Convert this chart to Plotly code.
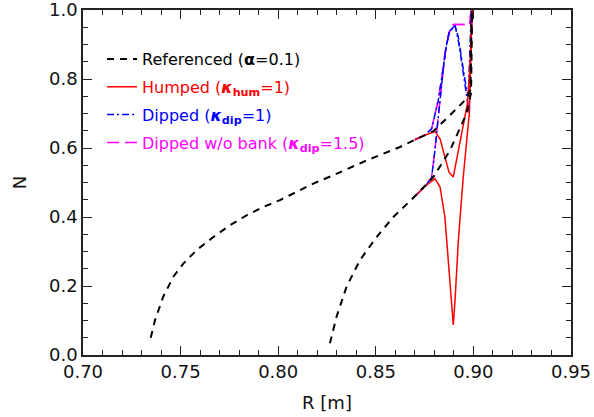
import plotly.graph_objects as go

# ---------------- data ----------------
# Referenced (alpha = 0.1): outer and inner branches
ref_out_R = [0.7347, 0.7369, 0.7411, 0.7463, 0.7514, 0.7582, 0.7668, 0.7753, 0.7838, 0.7924,
             0.8009, 0.8095, 0.8180, 0.8282, 0.8453, 0.8624, 0.8700, 0.8795, 0.8880, 0.8965,
             0.8985, 0.8992]
ref_out_N = [0.050, 0.101, 0.169, 0.227, 0.265, 0.304, 0.342, 0.376, 0.405, 0.429,
             0.449, 0.473, 0.497, 0.521, 0.564, 0.603, 0.624, 0.649, 0.695, 0.743,
             0.770, 1.020]
ref_in_R = [0.8265, 0.8299, 0.8350, 0.8419, 0.8504, 0.8590, 0.8700, 0.8795, 0.8880, 0.8965,
            0.8988, 0.8994]
ref_in_N = [0.034, 0.111, 0.198, 0.275, 0.342, 0.400, 0.460, 0.516, 0.593, 0.700,
            0.760, 1.020]

# Humped (kappa_hum = 1)
hum_out_R = [0.8700, 0.8750, 0.8803, 0.8830, 0.8854, 0.8875, 0.8897, 0.8923, 0.8948, 0.8969,
             0.8982, 0.8996]
hum_out_N = [0.624, 0.637, 0.648, 0.625, 0.574, 0.530, 0.516, 0.593, 0.661, 0.728,
             0.834, 1.020]
hum_in_R = [0.8700, 0.8755, 0.8803, 0.8829, 0.8854, 0.8871, 0.8888, 0.8897, 0.8906, 0.8923,
            0.8948, 0.8969, 0.8979, 0.8993]
hum_in_N = [0.460, 0.490, 0.511, 0.487, 0.400, 0.275, 0.140, 0.087, 0.159, 0.333,
            0.516, 0.642, 0.700, 1.020]

# Dipped (kappa_dip = 1)
dip_out_R = [0.8700, 0.8750, 0.8786, 0.8820, 0.8846, 0.8863, 0.8880, 0.8906, 0.8923, 0.8940,
             0.8957, 0.8974, 0.8990]
dip_out_N = [0.624, 0.637, 0.656, 0.738, 0.834, 0.902, 0.940, 0.955, 0.921, 0.854,
             0.796, 0.748, 1.020]
dip_in_R = [0.8700, 0.8755, 0.8786, 0.8803, 0.8820, 0.8837, 0.8854, 0.8875, 0.8906, 0.8925,
            0.8945, 0.8962, 0.8979, 0.8993]
dip_in_N = [0.460, 0.490, 0.516, 0.593, 0.690, 0.786, 0.873, 0.935, 0.955, 0.905,
            0.830, 0.760, 0.700, 1.020]

# Dipped w/o bank (kappa_dip = 1.5)
nob_out_R = [0.8700, 0.8750, 0.8786, 0.8820, 0.8846, 0.8863, 0.8880, 0.8897, 0.8940, 0.8982,
             0.8990]
nob_out_N = [0.624, 0.637, 0.656, 0.738, 0.834, 0.902, 0.940, 0.958, 0.958, 0.958,
             1.020]
nob_in_R = [0.8700, 0.8755, 0.8786, 0.8803, 0.8820, 0.8837, 0.8854, 0.8875, 0.8897, 0.8940,
            0.8982, 0.8990]
nob_in_N = [0.460, 0.490, 0.516, 0.593, 0.690, 0.786, 0.873, 0.935, 0.958, 0.958,
            0.958, 1.020]

x_ticks = [0.70, 0.75, 0.80, 0.85, 0.90, 0.95]
y_ticks = [0.0, 0.2, 0.4, 0.6, 0.8, 1.0]

names = [
    "Referenced (<b>α</b>=0.1)",
    "<span style='color:#ff0000'>Humped (<b><i>κ</i><sub>hum</sub></b>=1)</span>",
    "<span style='color:#0000ff'>Dipped (<b><i>κ</i><sub>dip</sub></b>=1)</span>",
    "<span style='color:#ff00ff'>Dipped w/o bank (<b><i>κ</i><sub>dip</sub></b>=1.5)</span>",
]


def join(a, b):
    return list(a) + [None] + list(b)


fig = go.Figure()
# draw order: magenta, blue, red, black on top
fig.add_trace(go.Scatter(x=join(nob_out_R, nob_in_R), y=join(nob_out_N, nob_in_N), mode="lines",
                         name=names[3], legendrank=4, legendgroup="d",
                         line=dict(color="#ff00ff", width=1.5, dash="12px,6px")))
fig.add_trace(go.Scatter(x=join(dip_out_R, dip_in_R), y=join(dip_out_N, dip_in_N), mode="lines",
                         name=names[2], legendrank=3, legendgroup="c",
                         line=dict(color="#0000ff", width=1.5, dash="7px,3px,2px,3px")))
fig.add_trace(go.Scatter(x=join(hum_out_R, hum_in_R), y=join(hum_out_N, hum_in_N), mode="lines",
                         name=names[1], legendrank=2, legendgroup="b",
                         line=dict(color="#ff0000", width=1.5)))
fig.add_trace(go.Scatter(x=join(ref_out_R, ref_in_R), y=join(ref_out_N, ref_in_N), mode="lines",
                         name=names[0], legendrank=1, legendgroup="a",
                         line=dict(color="#000000", width=2, dash="7px,6px")))

axis_common = dict(
    showline=True, linecolor="#222222", linewidth=1.5, mirror="ticks",
    ticks="inside", ticklen=9, tickwidth=1, tickcolor="#222222",
    showgrid=False, zeroline=False, automargin=False, ticklabeloverflow="allow",
    tickfont=dict(family="DejaVu Sans", size=18, color="#111111"),
)

fig.update_xaxes(range=[0.70, 0.95], tickvals=x_ticks, tickformat=".2f",
                 minor=dict(dtick=0.01, tick0=0.70, ticks="inside", ticklen=5, tickcolor="#222222"),
                 title=dict(text="R [m]", font=dict(family="DejaVu Sans", size=18, color="#111111"),
                            standoff=15),
                 **axis_common)
fig.update_yaxes(range=[0.0, 1.0], tickvals=y_ticks, tickformat=".1f",
                 minor=dict(dtick=0.05, tick0=0.0, ticks="inside", ticklen=5, tickcolor="#222222"),
                 title=dict(text="N", font=dict(family="DejaVu Sans", size=18, color="#111111"),
                            standoff=18),
                 **axis_common)

fig.update_layout(
    width=594, height=417,
    margin=dict(l=83, r=23, t=10, b=62),
    paper_bgcolor="white", plot_bgcolor="white",
    showlegend=True,
    legend=dict(x=0.039, y=0.907, xanchor="left", yanchor="top",
                bgcolor="rgba(0,0,0,0)", borderwidth=0,
                font=dict(family="DejaVu Sans", size=16, color="#000000"),
                itemwidth=30, tracegroupgap=4, traceorder="grouped"),
)

fig.write_html("out.html", config={"displayModeBar": False})

# remove the default page margin so the figure sits at the window's corner
with open("out.html", "r", encoding="utf-8") as f:
    html = f.read()
html = html.replace("<head>", "<head><style>html,body{margin:0;padding:0;overflow:hidden;}</style>", 1)
with open("out.html", "w", encoding="utf-8") as f:
    f.write(html)
